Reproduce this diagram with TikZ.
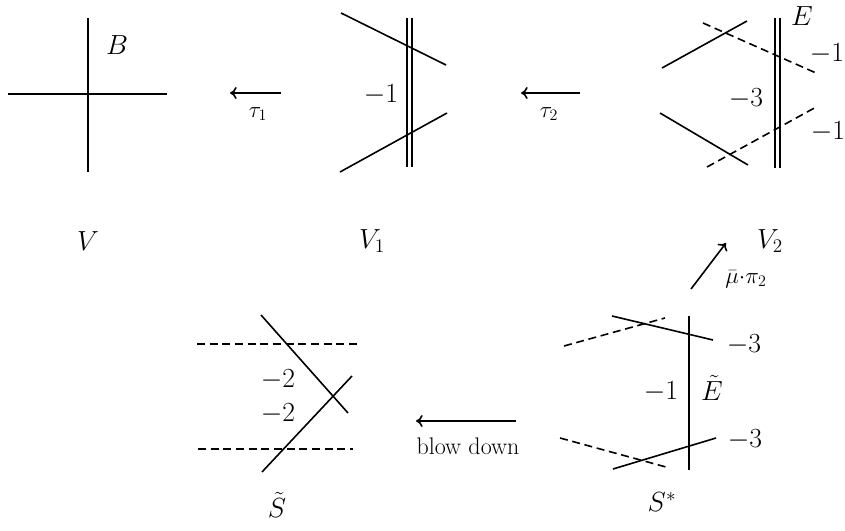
\documentclass[tikz,border=0pt]{standalone}
\usetikzlibrary{arrows.meta}
\begin{document}
\begin{tikzpicture}[x=0.75pt,y=-0.75pt,
  curve/.style={line width=1.2pt},
  dcurve/.style={line width=1.2pt,dash pattern=on 6pt off 3.5pt},
  dbl/.style={line width=1.1pt,double,double distance=2.4pt},
  maparrow/.style={line width=1.2pt,-{To[length=5pt,width=9pt]}},
  lbl/.style={inner sep=0pt,font=\fontsize{20}{24}\selectfont},
  slbl/.style={inner sep=0pt,font=\fontsize{18}{22}\selectfont}]
\useasboundingbox (0,0) rectangle (845,531);
% ---- V ----
\draw[curve] (88,18) coordinate (vt) -- (88,172) coordinate (vb);
\draw[curve] (8,94) coordinate (hl) -- (167,94) coordinate (hr);
\node[lbl] (B) at (117,45) {$B$};
\node[lbl] (V) at (88,241) {$V$};
% ---- tau1 ----
\coordinate (t1a) at (281,93);
\coordinate (t1b) at (230,93);
\draw[maparrow] (t1a) -- (t1b);
\node[slbl] (tau1) at (258,114) {$\tau_1$};
% ---- V1 ----
\draw[dbl] (409.5,18) coordinate (d1t) -- (409.5,167) coordinate (d1b);
\draw[curve] (341,13) coordinate (u1a) -- (446,65) coordinate (u1b);
\draw[curve] (340,172) coordinate (l1a) -- (447,113) coordinate (l1b);
\node[lbl] (m1a) at (381,95) {$-1$};
\node[lbl] (V1) at (372,241) {$V_1$};
% ---- tau2 ----
\coordinate (t2a) at (580,93);
\coordinate (t2b) at (521,93);
\draw[maparrow] (t2a) -- (t2b);
\node[slbl] (tau2) at (549,114) {$\tau_2$};
% ---- V2 ----
\draw[dbl] (777.5,18) coordinate (d2t) -- (777.5,168) coordinate (d2b);
\draw[curve] (662,68) coordinate (u2a) -- (747,21) coordinate (u2b);
\draw[dcurve] (703,23) coordinate (u2c) -- (816,73) coordinate (u2d);
\draw[curve] (660,113) coordinate (l2a) -- (748,165) coordinate (l2b);
\draw[dcurve] (707,167) coordinate (l2c) -- (818,106) coordinate (l2d);
\node[lbl] (E) at (802,16) {$E$};
\node[lbl] (m1b) at (827,54) {$-1$};
\node[lbl] (m1c) at (828,132) {$-1$};
\node[lbl] (m3a) at (746,99) {$-3$};
\node[lbl] (V2) at (770,241) {$V_2$};
% ---- mu pi2 ----
\coordinate (mpa) at (691,289);
\coordinate (mpb) at (726,243);
\draw[maparrow] (mpa) -- (mpb);
\node[slbl,anchor=west] (mupi) at (725,279) {$\bar\mu{\cdot}\pi_2$};
% ---- S* ----
\draw[curve] (689,316) coordinate (et) -- (689,470) coordinate (eb);
\draw[curve] (612,316) coordinate (su1) -- (713,340) coordinate (su2);
\draw[dcurve] (564,346) coordinate (sd1) -- (665,318) coordinate (sd2);
\draw[curve] (613,469) coordinate (sl1) -- (716,438) coordinate (sl2);
\draw[dcurve] (560,438) coordinate (sl3) -- (666,467) coordinate (sl4);
\node[lbl] (m3b) at (744,345) {$-3$};
\node[lbl] (m3c) at (745,440) {$-3$};
\node[lbl] (m1d) at (661,392) {$-1$};
\node[lbl] (Et) at (712,388) {$\tilde E$};
\node[lbl] (Sstar) at (662,502) {$S^*$};
% ---- blow down ----
\coordinate (bda) at (516,421);
\coordinate (bdb) at (416,421);
\draw[maparrow] (bda) -- (bdb);
\node[slbl] (bd) at (468,446) {blow down};
% ---- S tilde ----
\draw[dcurve] (197,344) coordinate (st1) -- (358,344) coordinate (st2);
\draw[dcurve] (198,449) coordinate (sb1) -- (353,449) coordinate (sb2);
\draw[curve] (261,315) coordinate (sa1) -- (348,413) coordinate (sa2);
\draw[curve] (262,472) coordinate (sc1) -- (352,376) coordinate (sc2);
\node[lbl] (m2a) at (278,380) {$-2$};
\node[lbl] (m2b) at (278,414) {$-2$};
\node[lbl] (St) at (277,505) {$\tilde S$};
\end{tikzpicture}
\end{document}
